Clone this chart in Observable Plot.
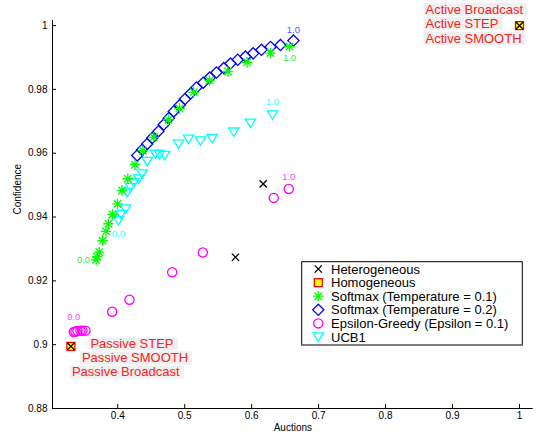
<!DOCTYPE html>
<html><head><meta charset="utf-8">
<script src="https://cdn.jsdelivr.net/npm/d3@7"></script>
<script src="https://cdn.jsdelivr.net/npm/@observablehq/plot@0.6"></script>
<style>
html,body{margin:0;padding:0;background:#fff;}
#chart{position:absolute;left:0;top:0;}
</style></head>
<body><div id="chart"></div>
<script>
// ---------- data ----------
const xTicks = [0.4, 0.5, 0.6, 0.7, 0.8, 0.9, 1];
const yTicks = [0.88, 0.9, 0.92, 0.94, 0.96, 0.98, 1];
const xLabel = "Auctions";
const yLabel = "Confidence";
const seriesNames = ["Heterogeneous", "Homogeneous", "Softmax (Temperature = 0.1)",
  "Softmax (Temperature = 0.2)", "Epsilon-Greedy (Epsilon = 0.1)", "UCB1"];
const paramLabels = ["0.0", "1.0"];

const heteroX = [0.6172, 0.5758, 0.33, 1.0];
const heteroY = [0.9504, 0.9274, 0.8995, 1.0];

const homoX = [0.33, 1.0];
const homoY = [0.8995, 1.0];
const passiveLabels = ["Passive STEP", "Passive SMOOTH", "Passive Broadcast"];
const activeLabels = ["Active Broadcast", "Active STEP", "Active SMOOTH"];

const softT01X = [0.3677, 0.3692, 0.3724, 0.3774, 0.3824, 0.3861, 0.3921, 0.3996, 0.4063, 0.4149, 0.4257,
  0.4376, 0.4538, 0.4757, 0.4922, 0.5135, 0.5370, 0.5646, 0.5933, 0.6281, 0.6565];
const softT01Y = [0.9266, 0.9276, 0.9290, 0.9326, 0.9355, 0.9379, 0.9408, 0.9441, 0.9483, 0.9520, 0.9564,
  0.9608, 0.9650, 0.9705, 0.9740, 0.9791, 0.9828, 0.9856, 0.9885, 0.9914, 0.9934];

const softT02X = [0.4290, 0.4364, 0.4439, 0.4514, 0.4608, 0.4687, 0.4762, 0.4836, 0.4926, 0.5004, 0.5086, 0.5176,
  0.5276, 0.5374, 0.5474, 0.5583, 0.5683, 0.5792, 0.5907, 0.6022, 0.6146, 0.6281, 0.6430, 0.6624];
const softT02Y = [0.9593, 0.9611, 0.9629, 0.9648, 0.9669, 0.9690, 0.9710, 0.9731, 0.9751, 0.9770, 0.9787, 0.9806,
  0.9821, 0.9837, 0.9853, 0.9867, 0.9881, 0.9893, 0.9903, 0.9913, 0.9924, 0.9933, 0.9939, 0.9953];

const epsX = [0.3343, 0.3368, 0.3398, 0.3443, 0.3473, 0.3518, 0.3916, 0.4175, 0.4813, 0.5270, 0.6330, 0.6554];
const epsY = [0.9040, 0.9041, 0.9043, 0.9044, 0.9044, 0.9044, 0.9103, 0.9141, 0.9227, 0.9289, 0.9460, 0.9488];

const ucbX = [0.4010, 0.4048, 0.4115, 0.4140, 0.4190, 0.4242, 0.4314, 0.4364, 0.4439, 0.4563, 0.4623, 0.4698,
  0.4907, 0.5056, 0.5235, 0.5410, 0.5733, 0.5982, 0.6311];
const ucbY = [0.9389, 0.9408, 0.9425, 0.9477, 0.9492, 0.9507, 0.9519, 0.9535, 0.9574, 0.9597, 0.9596, 0.9593,
  0.9629, 0.9644, 0.9638, 0.9646, 0.9666, 0.9694, 0.9720];

// ---------- symbols (MATLAB-like markers) ----------
const rad = s => Math.sqrt(s / Math.PI);
const symCross = {draw(c, s) {const r = rad(s); c.moveTo(-r, -r); c.lineTo(r, r); c.moveTo(-r, r); c.lineTo(r, -r);}};
const symAst = {draw(c, s) {const r = rad(s), d = r * 0.72;
  c.moveTo(-r, 0); c.lineTo(r, 0); c.moveTo(0, -r); c.lineTo(0, r);
  c.moveTo(-d, -d); c.lineTo(d, d); c.moveTo(-d, d); c.lineTo(d, -d);}};
const symDiamond = {draw(c, s) {const r = rad(s); c.moveTo(0, -r); c.lineTo(r, 0); c.lineTo(0, r); c.lineTo(-r, 0); c.closePath();}};
const symTriDown = {draw(c, s) {const r = rad(s); c.moveTo(-r, -r * 0.8); c.lineTo(r, -r * 0.8); c.lineTo(0, r * 0.85); c.closePath();}};
const symSquare = {draw(c, s) {const r = rad(s); c.rect(-r, -r, 2 * r, 2 * r);}};
const symCircle = {draw(c, s) {const r = rad(s); c.moveTo(r, 0); c.arc(0, 0, r, 0, 2 * Math.PI);}};

const styles = [
  {symbol: symCross, r: 3.6, stroke: "#000000", fill: "none"},
  {symbol: symSquare, r: 4, stroke: "#ff0000", fill: "#ffff00"},
  {symbol: symAst, r: 5.2, stroke: "#00ff00", fill: "none"},
  {symbol: symDiamond, r: 5.6, stroke: "#0000ff", fill: "none"},
  {symbol: symCircle, r: 4.6, stroke: "#ff00ff", fill: "none"},
  {symbol: symTriDown, r: 5.2, stroke: "#00ffff", fill: "none"}
];

function series(xs, ys, st) {
  return Plot.dot(d3.range(xs.length), {x: i => xs[i], y: i => ys[i], symbol: st.symbol, r: st.r,
    stroke: st.stroke, fill: st.fill, strokeWidth: 1.3});
}
function endLabel(xs, ys, i, text, color, opts) {
  return Plot.text([i], {x: j => xs[j], y: j => ys[j], text: () => text, fill: color, fontSize: 9.5, ...opts});
}
const LABEL_RED = "#ff2020";
function homoLabel(i, text, dx, dy) {
  return Plot.text([i], {x: j => homoX[j], y: j => homoY[j], text: () => text, fill: LABEL_RED,
    fontSize: 13, textAnchor: "start", lineAnchor: "middle", dx, dy});
}
const tickFmt = d => String(d);

const chart = Plot.plot({
  width: 536, height: 436,
  marginLeft: 52, marginRight: 3.3, marginTop: 20, marginBottom: 28,
  style: {fontFamily: "'Liberation Sans', Arial, Helvetica, sans-serif", fontSize: "10px", background: "#fff", overflow: "visible"},
  x: {domain: [0.3025, 1.0205]},
  y: {domain: [0.88, 1.0016]},
  marks: [
    Plot.axisX(xTicks, {tickSize: 4, dy: -4, tickFormat: () => "", label: null}),
    Plot.axisX(xTicks, {tickSize: 0, tickPadding: 3, fontSize: 10, tickFormat: tickFmt, label: null}),
    Plot.axisY(yTicks, {tickSize: 4, dx: 4, tickFormat: () => "", label: null}),
    Plot.axisY(yTicks, {tickSize: 0, tickPadding: 5, fontSize: 10, tickFormat: tickFmt, label: null}),
    Plot.ruleX([0.3025], {stroke: "black"}),
    Plot.ruleY([0.88], {stroke: "black"}),
    Plot.text([xLabel], {frameAnchor: "bottom", dy: 19, fontSize: 10, lineAnchor: "middle"}),
    Plot.text([yLabel], {frameAnchor: "left", dx: -35, rotate: -90, fontSize: 10, lineAnchor: "middle"}),
    // data
    series(epsX, epsY, styles[4]),
    series(ucbX, ucbY, styles[5]),
    series(softT02X, softT02Y, styles[3]),
    series(softT01X, softT01Y, styles[2]),
    series(homoX, homoY, styles[1]),
    series(heteroX, heteroY, styles[0]),
    // parameter labels
    endLabel(softT01X, softT01Y, 0, paramLabels[0], "#33ee33", {textAnchor: "end", dx: -6}),
    endLabel(softT01X, softT01Y, softT01X.length - 1, paramLabels[1], "#33ee33", {dy: 11}),
    endLabel(softT02X, softT02Y, softT02X.length - 1, paramLabels[1], "#5555ff", {dy: -11}),
    endLabel(ucbX, ucbY, 0, paramLabels[0], "#33ffff", {dy: 13}),
    endLabel(ucbX, ucbY, ucbX.length - 1, paramLabels[1], "#33ffff", {dy: -13}),
    endLabel(epsX, epsY, 0, paramLabels[0], "#ff44ff", {dy: -15}),
    endLabel(epsX, epsY, epsX.length - 1, paramLabels[1], "#ff44ff", {dy: -12}),
    // homogeneous labels
    homoLabel(0, passiveLabels[0], 19.5, -2),
    homoLabel(0, passiveLabels[1], 11, 12),
    homoLabel(0, passiveLabels[2], 1, 26),
    homoLabel(1, activeLabels[0], -94, -16),
    homoLabel(1, activeLabels[1], -94, -2),
    homoLabel(1, activeLabels[2], -94, 13)
  ]
});
document.getElementById("chart").appendChild(chart);

// light gray boxes behind the red labels
const svg = d3.select(chart);
svg.selectAll("g").filter(function() { return this.getAttribute("fill") === LABEL_RED; })
  .selectAll("text").each(function() {
    const b = this.getBBox();
    const rect = document.createElementNS("http://www.w3.org/2000/svg", "rect");
    rect.setAttribute("x", b.x - 2); rect.setAttribute("y", b.y + 1);
    rect.setAttribute("width", b.width + 6); rect.setAttribute("height", b.height - 2);
    rect.setAttribute("fill", "#f0f0f0");
    const t = this.getAttribute("transform"); if (t) rect.setAttribute("transform", t);
    this.parentNode.insertBefore(rect, this);
  });

// legend
const lg = svg.append("g").attr("font-size", 13).attr("text-anchor", "start");
lg.append("rect").attr("x", 301.7).attr("y", 261.7).attr("width", 220.6).attr("height", 83.3)
  .attr("fill", "#fff").attr("stroke", "#000");
seriesNames.forEach((name, i) => {
  const y = 269 + i * 13.6, st = styles[i];
  lg.append("path").attr("transform", `translate(318.3,${y})`)
    .attr("d", d3.symbol(st.symbol, st.r * st.r * Math.PI)())
    .attr("fill", st.fill).attr("stroke", st.stroke).attr("stroke-width", 1.3);
  lg.append("text").attr("x", 331).attr("y", y).attr("dy", "0.35em").attr("fill", "#000")
    .attr("text-anchor", "start").text(name);
});
</script>
</body></html>
